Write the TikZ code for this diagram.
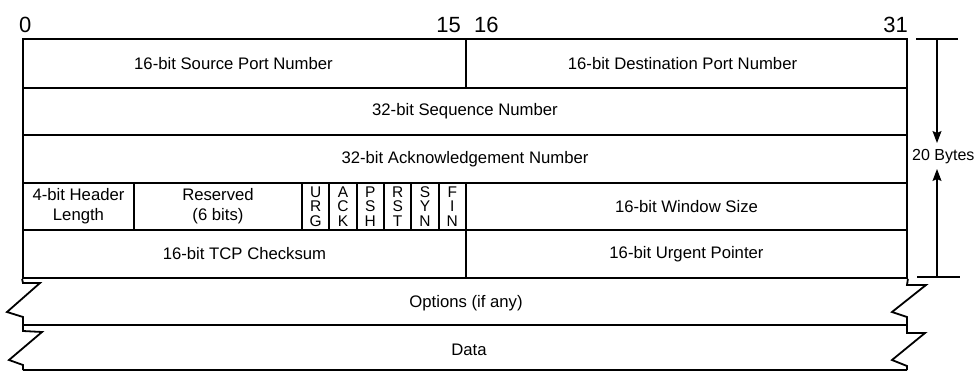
\documentclass[tikz,border=0pt]{standalone}
\usepackage{fontspec}
\setmainfont{Liberation Sans}
\usetikzlibrary{arrows.meta}
\begin{document}
\begin{tikzpicture}[x=1pt,y=-1pt,
  field/.style={draw, line width=1.8pt, inner sep=0pt, font=\fontsize{16.7}{20}\selectfont, align=center},
  flag/.style={field, minimum width=27.33pt, minimum height=47pt, font=\fontsize{15.5}{14.3}\selectfont},
  bitno/.style={inner sep=0pt, font=\fontsize{22}{24}\selectfont},
  txt/.style={inner sep=0pt, font=\fontsize{16.7}{20}\selectfont},
  rule/.style={line width=1.8pt, line join=miter},
  dim/.style={line width=1.1pt},
  dimarrow/.style={dim, -{Stealth[length=12pt,width=9pt,inset=2pt]}}
]
\useasboundingbox (0,0) rectangle (980,372);
\fill[white] (0,0) rectangle (980,372);

% bit numbers
\node[bitno, anchor=base west] (b0) at (19,32) {0};
\node[bitno, anchor=base east] (b15) at (461,32) {15};
\node[bitno, anchor=base west] (b16) at (474,32) {16};
\node[bitno, anchor=base east] (b31) at (908,32) {31};

% row 1
\node[field, minimum width=443pt, minimum height=49pt] (src) at (244.5,63.5) {\hspace*{-22pt}16-bit Source Port Number};
\node[field, minimum width=441pt, minimum height=49pt] (dst) at (686.5,63.5) {\hspace*{-8pt}16-bit Destination Port Number};
% row 2
\node[field, minimum width=884pt, minimum height=47pt] (seq) at (465,111.5) {32-bit Sequence Number};
% row 3
\node[field, minimum width=884pt, minimum height=48pt] (ack) at (465,159) {32-bit Acknowledgement Number};
% row 4
\node[field, minimum width=111pt, minimum height=47pt] (hlen) at (78.5,206.5) {4-bit Header\\Length};
\node[field, minimum width=168pt, minimum height=47pt] (res) at (218,206.5) {Reserved\\(6 bits)};
\node[flag] (furg) at (315.67,206.5) {U\\R\\G};
\node[flag] (fack) at (343,206.5) {A\\C\\K};
\node[flag] (fpsh) at (370.33,206.5) {P\\S\\H};
\node[flag] (frst) at (397.67,206.5) {R\\S\\T};
\node[flag] (fsyn) at (425,206.5) {S\\Y\\N};
\node[flag] (ffin) at (452.33,206.5) {F\\I\\N};
\node[field, minimum width=441pt, minimum height=47pt] (win) at (686.5,206.5) {16-bit Window Size};
% row 5
\node[field, minimum width=443pt, minimum height=48pt] (chk) at (244.5,254) {16-bit TCP Checksum};
\node[field, minimum width=441pt, minimum height=48pt] (urgp) at (686.5,254) {16-bit Urgent Pointer};

% options and data
\node[txt] (opt) at (466,303) {Options (if any)};
\node[txt] (data) at (469,350) {Data};

\coordinate (ol) at (23,325);
\coordinate (or) at (907,325);
\coordinate (dl) at (23,370);
\coordinate (dr) at (907,370);
\draw[rule] (ol) -- (or);
\draw[rule] (dl) -- (dr);
% left zigzags
\draw[rule] (chk.south west) -- (23,283) -- (40,283) -- (7,312) -- (23,317) -- (ol)
  -- (23,331) -- (42,332) -- (9,360) -- (23,365) -- (dl);
% right zigzags
\draw[rule] (urgp.south east) -- (907,285) -- (926,285) -- (892,312) -- (907,317) -- (or)
  -- (907,333) -- (925,333) -- (892,360) -- (907,366) -- (dr);

% 20 bytes dimension
\coordinate (tt1) at (916,39);
\coordinate (tt2) at (958,39);
\coordinate (bt1) at (917,277);
\coordinate (bt2) at (960,277);
\draw[dim] (tt1) -- (tt2);
\draw[dim] (bt1) -- (bt2);
\node[txt, anchor=west, font=\fontsize{16}{20}\selectfont] (bytes) at (912,157) {20 Bytes};
\coordinate (atop) at (937,39);
\coordinate (abot) at (937,277);
\draw[dimarrow] (atop) -- (937,143);
\draw[dimarrow] (abot) -- (937,169);
\end{tikzpicture}
\end{document}
